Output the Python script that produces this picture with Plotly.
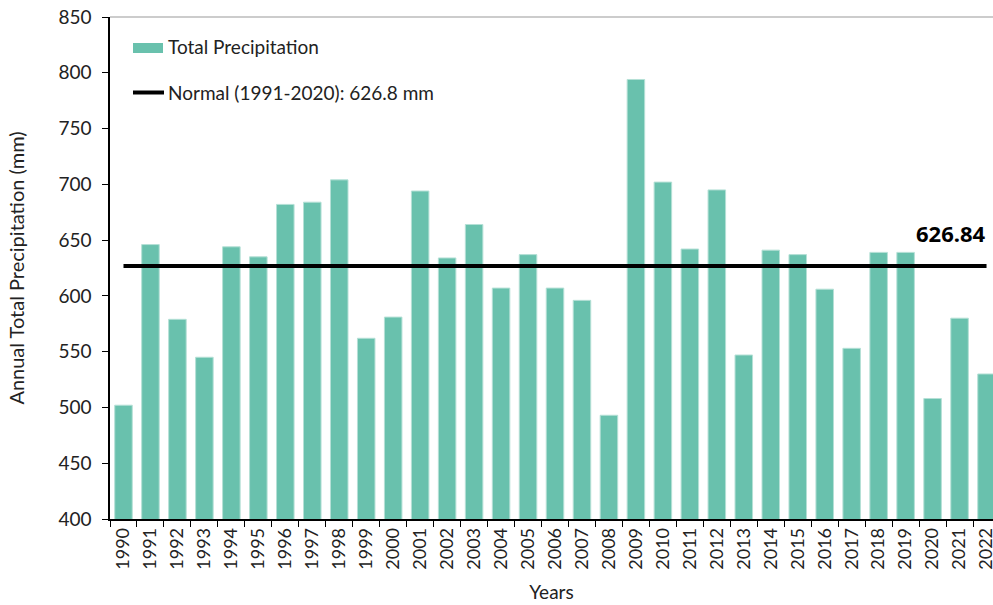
import plotly.graph_objects as go

years = [str(y) for y in range(1990, 2023)]
precip = [502, 646, 579, 545, 644, 635, 682, 684, 704, 562, 581, 694, 634, 664, 607,
          637, 607, 596, 493, 794, 702, 642, 695, 547, 641, 637, 606, 553, 639, 639,
          508, 580, 530]
normal_value = 626.84
bar_name = "Total Precipitation"
line_name = "Normal (1991-2020): 626.8 mm"
y_ticks = [400, 450, 500, 550, 600, 650, 700, 750, 800, 850]

FONT = "Lato"
TXT = "#222222"
BAR = "#69C1AD"

W, H = 993, 605
ML, MR, MT, MB = 110, 0, 17, 86
PW, PH = W - ML - MR, H - MT - MB


def px(x):
    return (x - ML) / PW


def py(y):
    return (H - MB - y) / PH


fig = go.Figure()
fig.add_trace(go.Bar(
    x=years, y=precip, name=bar_name, showlegend=False,
    marker=dict(color=BAR, line=dict(color="#b5e0d6", width=1)),
))
fig.add_trace(go.Scatter(
    x=years, y=[normal_value] * len(years), name=line_name, showlegend=False,
    mode="lines", line=dict(color="black", width=4),
))

# value label of the normal line
fig.add_annotation(
    x=px(988), y=normal_value, xref="paper", yref="y", text="<b>626.84</b>",
    xanchor="right", yanchor="middle",
    showarrow=False, yshift=33, font=dict(family="Noto Sans", size=22, color="black"),
)

# custom legend
fig.add_shape(type="rect", xref="paper", yref="paper",
              x0=px(133), x1=px(163), y0=py(53), y1=py(43),
              fillcolor=BAR, line=dict(width=0))
fig.add_annotation(x=px(166), y=py(47), xref="paper", yref="paper", text=bar_name,
                   xanchor="left", yanchor="middle", showarrow=False,
                   font=dict(family=FONT, size=19, color=TXT))
fig.add_shape(type="line", xref="paper", yref="paper",
              x0=px(133), x1=px(164), y0=py(92.5), y1=py(92.5),
              line=dict(color="black", width=4))
fig.add_annotation(x=px(166), y=py(93), xref="paper", yref="paper", text=line_name,
                   xanchor="left", yanchor="middle", showarrow=False,
                   font=dict(family=FONT, size=19, color=TXT))

fig.add_shape(type="line", xref="paper", yref="paper", x0=0, x1=1, y0=1, y1=1,
              line=dict(color="#999999", width=1))

fig.update_layout(
    width=W, height=H,
    margin=dict(l=ML, r=MR, t=MT, b=MB),
    paper_bgcolor="white", plot_bgcolor="white",
    font=dict(family=FONT, size=19, color=TXT),
    bargap=0.35,
    showlegend=False,
    xaxis=dict(
        type="category", range=[-0.5, 32.24], automargin=False,
        tickangle=-90, tickson="boundaries", ticks="outside", ticklen=6,
        tickcolor="black", showline=True, linecolor="black", linewidth=1.5,
        showgrid=False, tickfont=dict(size=18),
        title=dict(text="Years", font=dict(size=19), standoff=17),
    ),
    yaxis=dict(
        range=[400, 850], tickvals=y_ticks, ticks="outside", ticklen=6, automargin=False,
        tickcolor="black", showline=True, linecolor="black", linewidth=1.5,
        showgrid=False, zeroline=False, tickfont=dict(size=19), ticklabelstandoff=7,
        title=dict(text="Annual Total Precipitation (mm)", font=dict(size=20), standoff=28),
    ),
)

fig.write_html("out.html", config={"displayModeBar": False},
               post_script="document.body.style.margin='0';document.body.style.overflow='hidden';")
